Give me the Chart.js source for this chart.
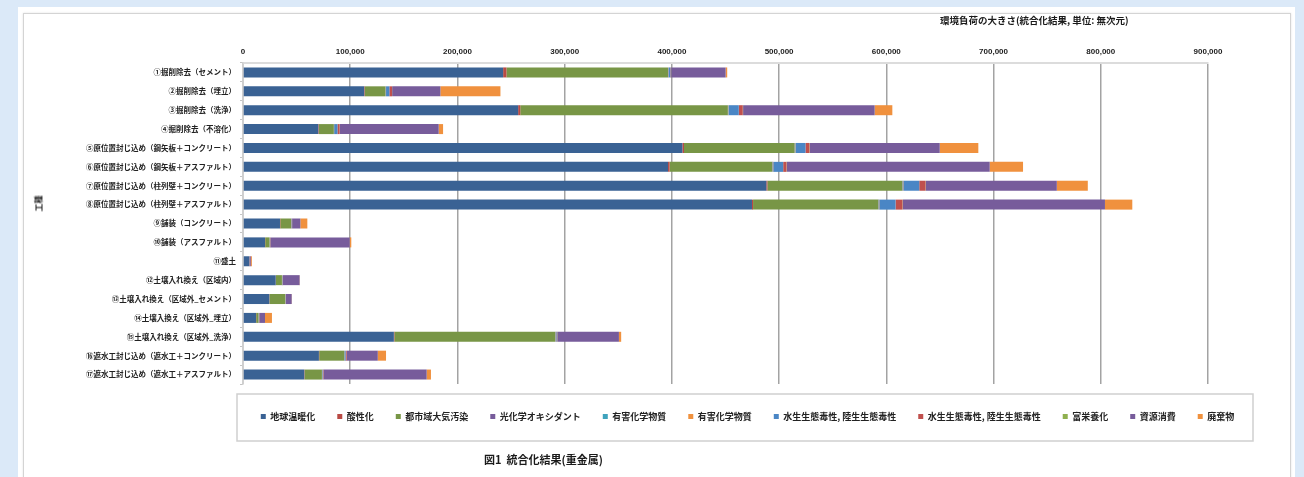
<!DOCTYPE html>
<html lang="ja">
<head>
<meta charset="utf-8">
<title>図1 統合化結果(重金属)</title>
<script src="https://cdn.jsdelivr.net/npm/chart.js@4.4.1/dist/chart.umd.min.js"></script>
<style>
  html, body { margin: 0; padding: 0; }
  body { width: 1304px; height: 477px; background: #dbe9f8; position: relative; overflow: hidden;
         font-family: "Noto Sans CJK JP", "Liberation Sans", sans-serif; }
  #sheet { position: absolute; left: 18px; top: 7px; width: 1277px; height: 480px; background: #fff; }
  #frame { position: absolute; left: 23px; top: 13px; width: 1266px; height: 480px;
           border: 1px solid #d4d4d4; box-shadow: 0 0 2px #e2e2e2; }
  #chart { position: absolute; left: 0; top: 0; }
  .txt { position: absolute; color: #1a1a1a; font-weight: bold; white-space: nowrap; }
  #unit { left: 940px; top: 13px; font-size: 9.5px; }
  #caption { left: 484px; top: 451px; font-size: 11px; }
  #ytitle { left: 30px; top: 198px; font-size: 8px; transform: rotate(-90deg); transform-origin: center; }
</style>
</head>
<body>
<div id="sheet"></div>
<div id="frame"></div>
<canvas id="chart" width="1304" height="477"></canvas>
<div class="txt" id="unit">環境負荷の大きさ(統合化結果, 単位: 無次元)</div>
<div class="txt" id="ytitle">工種</div>
<div class="txt" id="caption">図1&nbsp;&nbsp;統合化結果(重金属)</div>
<script>
// 工種
const categories = [
  '①掘削除去（セメント）',
  '②掘削除去（埋立）',
  '③掘削除去（洗浄）',
  '④掘削除去（不溶化）',
  '⑤原位置封じ込め（鋼矢板＋コンクリート）',
  '⑥原位置封じ込め（鋼矢板＋アスファルト）',
  '⑦原位置封じ込め（柱列壁＋コンクリート）',
  '⑧原位置封じ込め（柱列壁＋アスファルト）',
  '⑨舗装（コンクリート）',
  '⑩舗装（アスファルト）',
  '⑪盛土',
  '⑫土壌入れ換え（区域内）',
  '⑬土壌入れ換え（区域外_セメント）',
  '⑭土壌入換え（区域外_埋立）',
  '⑮土壌入れ換え（区域外_洗浄）',
  '⑯遮水工封じ込め（遮水工＋コンクリート）',
  '⑰遮水工封じ込め（遮水工＋アスファルト）'
];

const seriesNames = [
  '地球温暖化', '酸性化', '都市域大気汚染', '光化学オキシダント', '有害化学物質', '有害化学物質',
  '水生生態毒性, 陸生生態毒性', '水生生態毒性, 陸生生態毒性', '富栄養化', '資源消費', '廃棄物'
];

// values, one array per series
const globalWarming = [242600, 113000, 256600, 70200, 409800, 396400, 488100, 474700, 34500, 20500, 5900, 30500, 24500, 12100, 140700, 70800, 57100];
const acidification = [3100, 500, 2000, 500, 1500, 1500, 1000, 1000, 300, 200, 300, 200, 200, 200, 500, 300, 300];
const urbanAir      = [150700, 19300, 193600, 14000, 103100, 95700, 125800, 116800, 10000, 4000, 0, 5600, 14600, 2100, 150000, 23300, 16200];
const photochem     = [300, 200, 300, 100, 300, 300, 300, 300, 100, 100, 0, 100, 100, 100, 300, 100, 100];
const toxicA        = [200, 200, 300, 100, 300, 300, 300, 300, 100, 100, 0, 100, 100, 100, 200, 100, 100];
const toxicB        = [200, 200, 300, 100, 300, 300, 300, 300, 100, 100, 0, 100, 100, 100, 200, 100, 100];
const ecoToxA       = [1500, 3100, 9300, 3100, 9300, 9300, 14900, 15200, 300, 200, 200, 300, 200, 200, 500, 1000, 500];
const ecoToxB       = [500, 2500, 3700, 2000, 3700, 3100, 5900, 6500, 300, 200, 300, 300, 200, 200, 500, 1000, 500];
const eutrophication = [200, 100, 300, 100, 300, 300, 300, 300, 100, 100, 0, 100, 100, 100, 200, 100, 100];
const resources     = [50800, 45000, 122700, 92300, 121200, 189200, 122100, 188500, 7700, 74000, 800, 15500, 5300, 5300, 57500, 28900, 96300];
const waste         = [1500, 56000, 16500, 4100, 36000, 31100, 28900, 25500, 6500, 1500, 800, 300, 300, 6500, 2100, 7700, 4000];

const seriesValues = [globalWarming, acidification, urbanAir, photochem, toxicA, toxicB,
                      ecoToxA, ecoToxB, eutrophication, resources, waste];
const seriesColors = ['#3a6294', '#b94a44', '#789646', '#775c9b', '#3fa3bd', '#f0913e',
                      '#4a86c5', '#c0504d', '#8fb04f', '#775c9b', '#f0913e'];

const tickFont = { family: '"Liberation Sans", "Noto Sans CJK JP", sans-serif', size: 8, weight: 'bold' };
const jpFont = { family: '"Noto Sans CJK JP", "Liberation Sans", sans-serif', size: 7.5, weight: 'bold' };

// moves the legend under the plot and draws the box round it
const legendFrame = {
  id: 'legendFrame',
  afterLayout(chart) {
    const lg = chart.legend;
    lg.left = 203; lg.right = 1292; lg.width = 1089;
    lg.top = 390; lg.bottom = 440; lg.height = 50;
  },
  afterDraw(chart) {
    const c = chart.ctx;
    c.save();
    c.strokeStyle = '#cfcfcf';
    c.lineWidth = 1.5;
    c.strokeRect(237, 394, 1016, 47);
    c.restore();
  }
};

new Chart(document.getElementById('chart'), {
  type: 'bar',
  data: {
    labels: categories,
    datasets: seriesNames.map((name, i) => ({
      label: name,
      data: seriesValues[i],
      backgroundColor: seriesColors[i],
      borderWidth: 0,
      barPercentage: 0.53,
      categoryPercentage: 1
    }))
  },
  options: {
    indexAxis: 'y',
    responsive: false,
    animation: false,
    layout: { padding: { left: 0, right: 96, top: 30, bottom: 52 } },
    scales: {
      x: {
        position: 'top',
        stacked: true,
        min: 0,
        max: 900000,
        ticks: {
          stepSize: 100000,
          padding: 6,
          color: '#222',
          font: tickFont,
          callback: v => v.toLocaleString('en-US')
        },
        grid: { color: '#a3a3a3', lineWidth: 1.5, drawTicks: false },
        border: { color: '#dcdcdc', width: 2 },
        afterFit: s => { s.height = 33; }
      },
      y: {
        stacked: true,
        ticks: { autoSkip: false, color: '#222', font: jpFont, padding: 4 },
        grid: { drawOnChartArea: false, offset: true, tickLength: 3, color: '#c4c4c4' },
        border: { color: '#cfcfcf', width: 1.5 },
        afterFit: s => { s.width = 243; }
      }
    },
    plugins: {
      legend: {
        position: 'bottom',
        labels: {
          boxWidth: 5,
          boxHeight: 5,
          padding: 22,
          color: '#222',
          font: { family: '"Noto Sans CJK JP", "Liberation Sans", sans-serif', size: 9, weight: 'bold' }
        }
      },
      tooltip: { enabled: false }
    }
  },
  plugins: [legendFrame]
});
</script>
</body>
</html>
